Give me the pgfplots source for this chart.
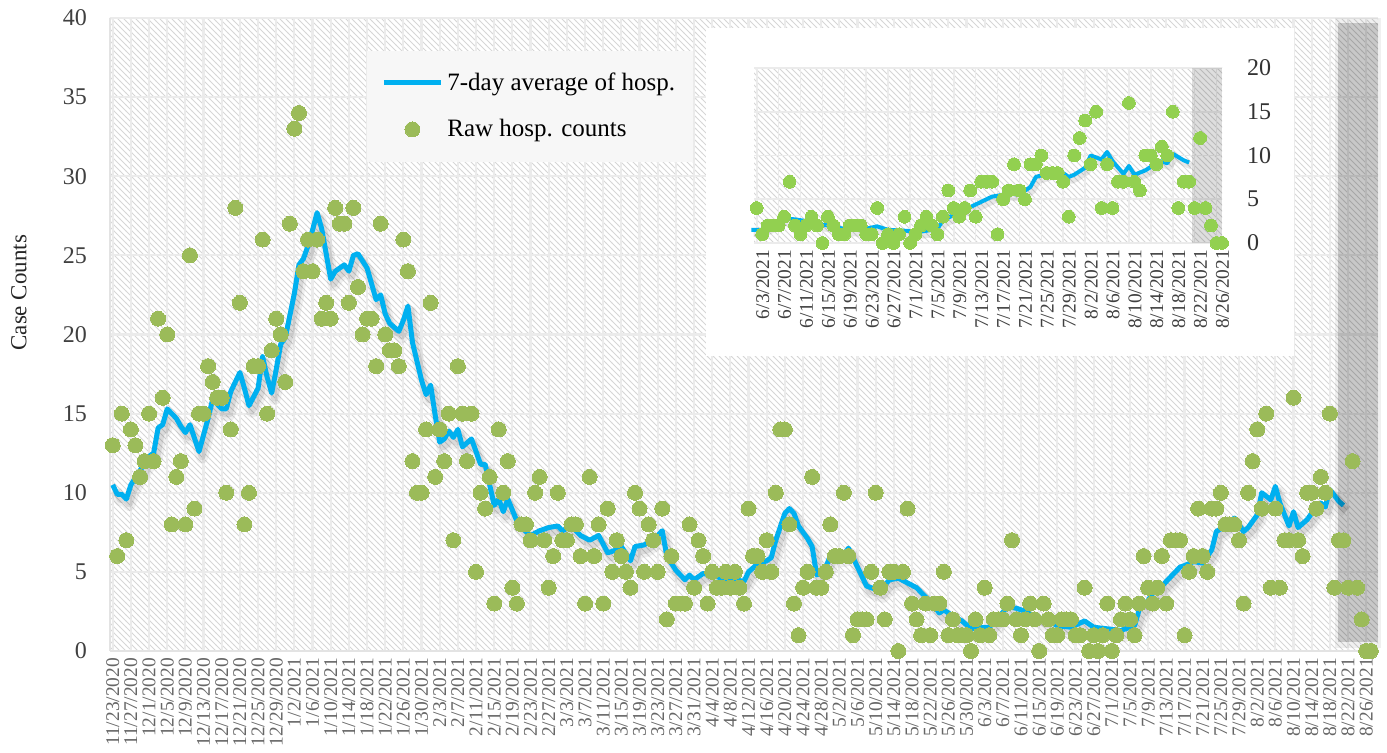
\documentclass[border=0pt]{standalone}
\usepackage{fontspec}
\setmainfont{Liberation Serif}
\usepackage{pgfplots}
\pgfplotsset{compat=1.18}
\usepackage{pgfplotstable}
\usetikzlibrary{patterns}

\definecolor{avgblue}{RGB}{0,176,240}
\definecolor{rawgreen}{RGB}{155,187,89}
\definecolor{insetgreen}{RGB}{146,208,80}

\pgfplotstableread{
d v
0 13
1 6
2 15
3 7
4 14
5 13
6 11
7 12
8 15
9 12
10 21
11 16
12 20
13 8
14 11
15 12
16 8
17 25
18 9
19 15
20 15
21 18
22 17
23 16
24 16
25 10
26 14
27 28
28 22
29 8
30 10
31 18
32 18
33 26
34 15
35 19
36 21
37 20
38 17
39 27
40 33
41 34
42 24
43 26
44 24
45 26
46 21
47 22
48 21
49 28
50 27
51 27
52 22
53 28
54 23
55 20
56 21
57 21
58 18
59 27
60 20
61 19
62 19
63 18
64 26
65 24
66 12
67 10
68 10
69 14
70 22
71 11
72 14
73 12
74 15
75 7
76 18
77 15
78 12
79 15
80 5
81 10
82 9
83 11
84 3
85 14
86 10
87 12
88 4
89 3
90 8
91 8
92 7
93 10
94 11
95 7
96 4
97 6
98 10
99 7
100 7
101 8
102 8
103 6
104 3
105 11
106 6
107 8
108 3
109 9
110 5
111 7
112 6
113 5
114 4
115 10
116 9
117 5
118 8
119 7
120 5
121 9
122 2
123 6
124 3
125 3
126 3
127 8
128 4
129 7
130 6
131 3
132 5
133 4
134 4
135 5
136 4
137 5
138 4
139 3
140 9
141 6
142 6
143 5
144 7
145 5
146 10
147 14
148 14
149 8
150 3
151 1
152 4
153 5
154 11
155 4
156 4
157 5
158 8
159 6
160 6
161 10
162 6
163 1
164 2
165 2
166 2
167 5
168 10
169 4
170 2
171 5
172 5
173 0
174 5
175 9
176 3
177 2
178 1
179 3
180 1
181 3
182 3
183 5
184 1
185 2
186 1
187 1
188 1
189 0
190 2
191 1
192 4
193 1
194 2
195 2
196 2
197 3
198 7
199 2
200 1
201 2
202 3
203 2
204 0
205 3
206 2
207 1
208 1
209 2
210 2
211 2
212 1
213 1
214 4
215 0
216 1
217 0
218 1
219 3
220 0
221 1
222 2
223 3
224 2
225 1
226 3
227 6
228 4
229 3
230 4
231 6
232 3
233 7
234 7
235 7
236 1
237 5
238 6
239 9
240 6
241 5
242 9
243 9
244 10
245 8
246 8
247 8
248 7
249 3
250 10
251 12
252 14
253 9
254 15
255 4
256 9
257 4
258 7
259 7
260 16
261 7
262 6
263 10
264 10
265 9
266 11
267 10
268 15
269 4
270 7
271 7
272 4
273 12
274 4
275 2
276 0
277 0
}\rawdata

\pgfplotstableread{
d v
0 10.5
1 9.9
2 9.9
3 9.6
4 10.5
6 11.4
8 12.3
9 12.5
10 14.1
11 14.3
12 15.3
14 14.7
15 14.2
16 13.8
17 14.3
19 12.6
21 14.7
22 15.9
24 15.3
25 15.3
26 16.4
28 17.6
29 16.6
30 15.5
32 16.6
33 18.6
34 17.3
35 16.3
36 17.8
37 19.4
38 19.8
39 21.2
40 22.6
41 24.4
42 24.8
43 25.6
44 26.6
45 27.7
46 26.7
47 25.1
48 23.5
49 24.0
51 24.4
52 24.0
53 25.0
54 25.1
56 24.2
58 22.2
59 22.5
60 21.3
61 20.7
63 20.2
64 20.9
65 21.8
66 19.5
68 17.1
69 16.2
70 16.8
71 14.9
72 13.2
73 13.4
74 13.9
75 13.5
76 14.0
77 12.9
79 13.4
81 11.8
82 11.8
84 9.2
85 9.6
86 8.8
87 9.6
89 8.2
90 7.8
92 7.3
94 7.6
96 7.8
98 7.9
99 7.6
101 7.9
103 7.3
105 7.0
107 7.3
109 6.2
111 6.4
112 6.6
114 5.7
115 6.6
117 6.7
119 7.1
120 7.3
121 7.6
122 6.0
124 5.1
126 4.5
127 4.8
128 4.5
130 4.9
132 4.8
134 4.6
137 4.5
139 4.4
140 5.0
142 5.5
144 5.7
145 5.9
146 7.0
148 8.7
149 9.0
150 8.7
151 7.9
153 7.1
154 6.6
155 4.8
157 5.3
158 6.0
161 6.1
162 6.5
163 5.9
165 4.7
166 4.1
169 3.8
171 4.5
173 4.6
175 4.3
177 4.0
179 3.4
180 3.2
182 2.4
183 2.6
185 2.2
187 1.9
189 1.4
191 1.5
193 1.5
195 2.1
197 2.8
199 2.7
201 2.5
203 2.2
206 1.9
208 1.6
211 1.5
214 1.9
216 1.5
219 1.4
222 1.3
224 1.5
225 1.6
226 2.6
228 3.2
229 3.65
231 4.1
233 4.7
234 5.0
235 5.3
236 5.4
238 5.65
240 5.55
242 6.4
243 7.55
245 7.9
247 8.4
249 7.55
250 7.8
252 8.6
253 10.0
255 9.55
256 10.4
257 9.35
259 7.9
260 8.8
261 7.8
263 8.3
265 9.1
266 9.35
267 9.1
268 10.2
270 9.45
271 9.2
}\avgdata

\pgfplotsset{
  hatchbg/.style={axis background/.style={pattern=north west lines, pattern color=gray!32}},
}

\begin{document}
\begin{tikzpicture}
\path[use as bounding box] (-55pt,-51pt) rectangle (638.5pt,325.5pt);
\begin{axis}[
  at={(0pt,0pt)}, anchor=south west,
  scale only axis, width=634pt, height=316.5pt,
  xmin=-0.6, xmax=278.6, ymin=0, ymax=40,
  clip=false,
  hatchbg,
  xtick={0,4,...,276},
  xticklabels={11/23/2020,11/27/2020,12/1/2020,12/5/2020,12/9/2020,12/13/2020,12/17/2020,12/21/2020,12/25/2020,12/29/2020,1/2/2021,1/6/2021,1/10/2021,1/14/2021,1/18/2021,1/22/2021,1/26/2021,1/30/2021,2/3/2021,2/7/2021,2/11/2021,2/15/2021,2/19/2021,2/23/2021,2/27/2021,3/3/2021,3/7/2021,3/11/2021,3/15/2021,3/19/2021,3/23/2021,3/27/2021,3/31/2021,4/4/2021,4/8/2021,4/12/2021,4/16/2021,4/20/2021,4/24/2021,4/28/2021,5/2/2021,5/6/2021,5/10/2021,5/14/2021,5/18/2021,5/22/2021,5/26/2021,5/30/2021,6/3/2021,6/7/2021,6/11/2021,6/15/2021,6/19/2021,6/23/2021,6/27/2021,7/1/2021,7/5/2021,7/9/2021,7/13/2021,7/17/2021,7/21/2021,7/25/2021,7/29/2021,8/2/2021,8/6/2021,8/10/2021,8/14/2021,8/18/2021,8/22/2021,8/26/2021},
  ytick={0,5,...,40},
  grid=major,
  major grid style={draw=white!92!black, line width=1.1pt},
  major tick length=0pt,
  axis lines*=left,
  axis line style={draw=gray!22, line width=1pt},
  xticklabel style={rotate=90, anchor=east, font=\fontsize{9.7}{10}\selectfont, text=black!60},
  yticklabel style={font=\fontsize{12}{13}\selectfont, text=black!75, xshift=-8pt},
  /pgf/number format/assume math mode=true,
  ylabel={Case Counts},
  every axis y label/.style={at={(axis description cs:-0.0718,0.566)}, rotate=90, anchor=center, font=\fontsize{11.5}{13}\selectfont, text=black!85},
  legend style={at={(rel axis cs:0.2027,0.949)}, anchor=north west, fill=white!97!black, draw=none,
    font=\fontsize{12.5}{14}\selectfont, row sep=9pt, inner xsep=7pt, inner ysep=9pt, cells={anchor=west}},
]
\addplot[draw=black, opacity=0.06, line width=6pt, xshift=1.5pt, yshift=-3pt, line join=round, forget plot] table[x=d,y=v] {\avgdata};
\addplot[draw=black, opacity=0.09, line width=3.5pt, xshift=1.5pt, yshift=-2.5pt, line join=round, forget plot] table[x=d,y=v] {\avgdata};
\addplot[draw=avgblue, line width=2.5pt, line join=round, no marks,
  legend image code/.code={\draw[avgblue, line width=2.5pt] (0pt,0pt) -- (28.5pt,0pt);}] table[x=d,y=v] {\avgdata};
\addlegendentry{7-day average of hosp.}
\addplot[rawgreen, only marks, mark=*, mark size=3.75pt, mark options={fill=rawgreen, draw=rawgreen, line width=0pt},
  legend image code/.code={\draw[rawgreen, only marks, mark=*, mark size=3.75pt, mark options={fill=rawgreen, draw=rawgreen, line width=0pt}] plot coordinates {(14.25pt,0pt)};}] table[x=d,y=v] {\rawdata};
\addlegendentry{Raw hosp. counts}
\addplot[fill=black, fill opacity=0.06, draw=none, forget plot] coordinates {(269.2,0.2) (279.2,0.2) (279.2,40) (269.2,40)} -- cycle;
\addplot[fill=black, fill opacity=0.17, draw=none, forget plot] coordinates {(269.9,0.6) (278.5,0.6) (278.5,39.7) (269.9,39.7)} -- cycle;
\end{axis}

\fill[white] (298pt,147.5pt) rectangle (592pt,311.5pt);

\begin{axis}[
  at={(322pt,204pt)}, anchor=south west,
  scale only axis, width=234pt, height=87.5pt,
  xmin=191.5, xmax=277, ymin=0, ymax=20,
  clip=false,
  hatchbg,
  xtick={192,196,...,276},
  xticklabels={6/3/2021,6/7/2021,6/11/2021,6/15/2021,6/19/2021,6/23/2021,6/27/2021,7/1/2021,7/5/2021,7/9/2021,7/13/2021,7/17/2021,7/21/2021,7/25/2021,7/29/2021,8/2/2021,8/6/2021,8/10/2021,8/14/2021,8/18/2021,8/22/2021,8/26/2021},
  ytick={0,5,...,20},
  yticklabel pos=right,
  grid=major,
  major grid style={draw=white!92!black, line width=0.8pt},
  major tick length=0pt,
  axis line style={draw=none},
  xticklabel style={rotate=90, anchor=east, font=\fontsize{9.7}{10}\selectfont, text=black!75, yshift=-3pt},
  yticklabel style={font=\fontsize{12}{13}\selectfont, text=black!80, xshift=9pt},
  /pgf/number format/assume math mode=true,
]
\addplot[draw=black, opacity=0.09, line width=3pt, xshift=1.2pt, yshift=-2pt, line join=round, restrict x to domain=191:278] table[x=d,y=v] {\avgdata};
\addplot[draw=avgblue, line width=2pt, line join=round, no marks, restrict x to domain=191:278] table[x=d,y=v] {\avgdata};
\addplot[insetgreen, only marks, mark=*, mark size=3.2pt, mark options={fill=insetgreen, draw=insetgreen, line width=0pt}, restrict x to domain=192:278] table[x=d,y=v] {\rawdata};
\addplot[fill=black, fill opacity=0.13, draw=none] coordinates {(271.6,0) (277,0) (277,20) (271.6,20)} -- cycle;
\end{axis}
\end{tikzpicture}
\end{document}
